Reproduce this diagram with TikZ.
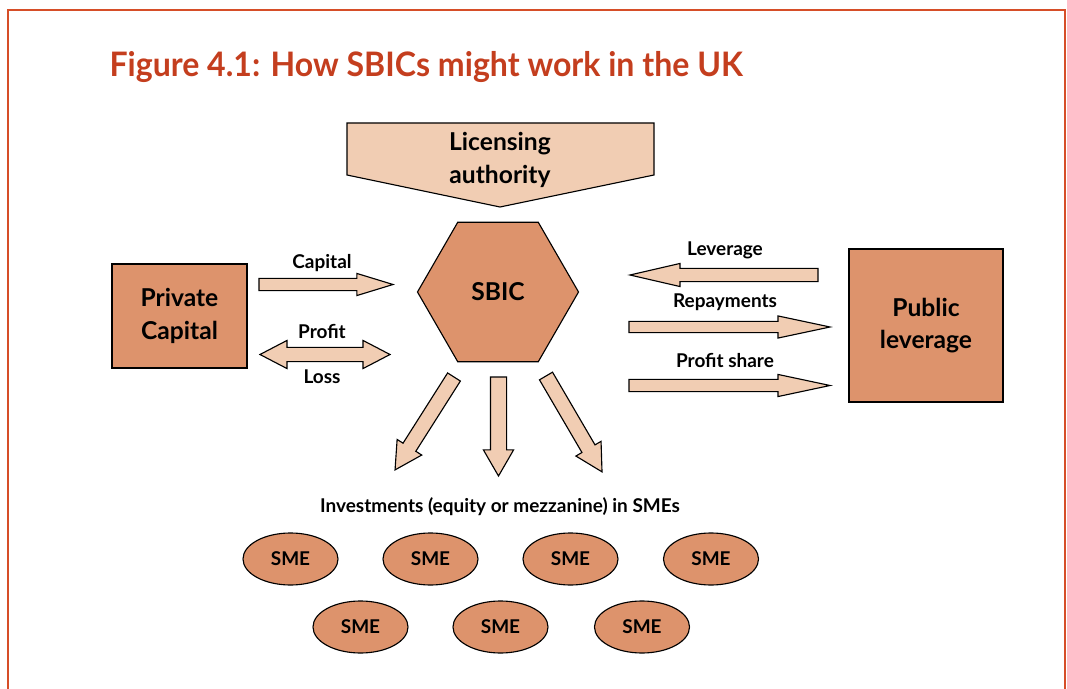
\documentclass[tikz,border=0pt]{standalone}
\usepackage{fontspec}
\setmainfont{Lato}
\usetikzlibrary{shapes.geometric,shapes.arrows}
\definecolor{figRed}{RGB}{196, 62, 30}
\definecolor{frameRed}{RGB}{214, 78, 40}
\definecolor{peach}{RGB}{241, 205, 179}
\definecolor{clay}{RGB}{221, 147, 108}

\begin{document}
\begin{tikzpicture}[
    x=0.025cm, y=-0.025cm,
    line width=0.8pt,
    bigText/.style={font=\fontsize{17.5}{23}\selectfont\bfseries, align=center},
    smallText/.style={font=\fontsize{13.5}{16}\selectfont\bfseries},
    clayBox/.style={draw=black, fill=clay, inner sep=0pt},
    blockArrow/.style={single arrow, draw=black, fill=peach, inner xsep=0pt, outer sep=0pt},
    smeOval/.style={ellipse, draw=black, fill=clay, smallText,
        minimum width=2.375cm, minimum height=1.3cm, inner sep=0pt}
]
    \useasboundingbox (0,0) rectangle (1067,689);

    % ================= frame and title =================
    \draw[frameRed, line width=1.4pt] (8,689) -- (8,10) -- (1065,10) -- (1065,689);
    \node[anchor=base west, text=figRed, inner sep=0pt,
        font=\fontsize{24}{28}\selectfont\bfseries\addfontfeature{FakeStretch=0.95}]
        (title) at (109,77) {Figure 4.1: How SBICs might work in the UK};

    % ================= licensing authority =================
    \draw[fill=peach] (347,123) -- (654,123) -- (654,175) -- (500,207) -- (347,175) -- cycle;
    \node[bigText] (lic) at (500,160) {Licensing\\authority};

    % ================= SBIC and the two sides =================
    \node[regular polygon, regular polygon sides=6, minimum size=4.025cm,
        clayBox, bigText] (sbic) at (498,292) {SBIC};
    \node[clayBox, bigText, minimum width=3.375cm, minimum height=2.6cm]
        (priv) at (179.5,316) {Private\\Capital};
    \node[clayBox, bigText, minimum width=3.85cm, minimum height=3.825cm]
        (pub) at (926,325.5) {Public\\leverage};

    % ================= flows: private capital <-> SBIC =================
    \node[blockArrow, anchor=tail, minimum height=3.35cm, inner ysep=0.1375cm,
        single arrow head extend=0.125cm, single arrow tip angle=34] (capArr) at (259,284.5) {};
    \node[double arrow, draw=black, fill=peach, inner xsep=0pt, inner ysep=0.1625cm,
        minimum height=3.25cm,
        double arrow head extend=0.175cm, double arrow tip angle=55] (plArr) at (325,354.5) {};
    \node[smallText, anchor=base] (capLbl) at (322,269) {Capital};
    \node[smallText, anchor=base] (profLbl) at (322,338) {Profit};
    \node[smallText, anchor=base] (lossLbl) at (322,383) {Loss};

    % ================= flows: SBIC <-> public leverage =================
    \node[blockArrow, anchor=tail, rotate=180, minimum height=4.7cm, inner ysep=0.15cm,
        single arrow head extend=0.125cm, single arrow tip angle=26] (levArr) at (818,275) {};
    \node[blockArrow, anchor=tail, minimum height=5.025cm, inner ysep=0.125cm,
        single arrow head extend=0.1375cm, single arrow tip angle=24] (repArr) at (629,327) {};
    \node[blockArrow, anchor=tail, minimum height=5.025cm, inner ysep=0.1375cm,
        single arrow head extend=0.125cm, single arrow tip angle=24] (shrArr) at (629,385.5) {};
    \node[smallText, anchor=base] (levLbl) at (725,256) {Leverage};
    \node[smallText, anchor=base] (repLbl) at (725,307) {Repayments};
    \node[smallText, anchor=base] (shrLbl) at (725,367) {Profit share};

    % ================= investments fanning out =================
    \node[blockArrow, anchor=tail, rotate=-122.4, minimum height=2.75cm, inner ysep=0.175cm,
        single arrow head extend=0.175cm, single arrow tip angle=57] (invL) at (454,377) {};
    \node[blockArrow, anchor=tail, rotate=-90, minimum height=2.475cm, inner ysep=0.1875cm,
        single arrow head extend=0.175cm, single arrow tip angle=60] (invM) at (498.5,377) {};
    \node[blockArrow, anchor=tail, rotate=-59.7, minimum height=2.775cm, inner ysep=0.175cm,
        single arrow head extend=0.175cm, single arrow tip angle=57] (invR) at (546,376) {};
    \node[smallText, anchor=base] (invLbl) at (500,512) {Investments (equity or mezzanine) in SMEs};

    % ================= SMEs =================
    \foreach \i/\x in {1/290.5, 2/430.5, 3/570.5, 4/711}
        \node[smeOval] (sme\i) at (\x,559) {SME};
    \foreach \i/\x in {5/360.5, 6/500.5, 7/642}
        \node[smeOval] (sme\i) at (\x,627) {SME};

\end{tikzpicture}
\end{document}
